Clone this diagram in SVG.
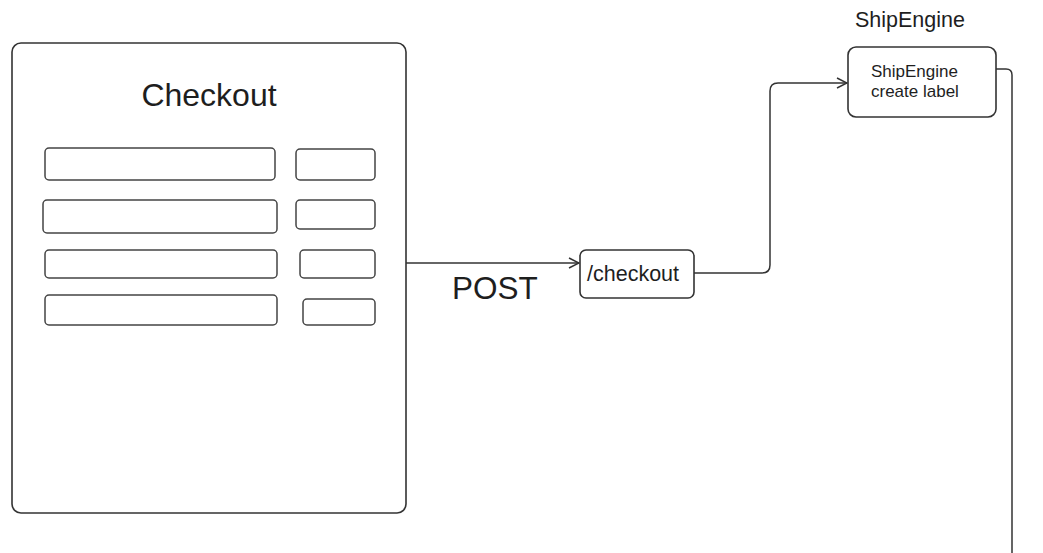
<svg xmlns="http://www.w3.org/2000/svg" width="1043" height="553" viewBox="0 0 1043 553">
<style>
.box{fill:#fff;stroke:#333;stroke-width:1.6}
.fld{fill:#fff;stroke:#444;stroke-width:1.5}
.con{fill:none;stroke:#333;stroke-width:1.5}
text{font-family:"Liberation Sans",Arial,sans-serif;fill:#1e1e1e}
</style>
<defs>
<marker id="arr" viewBox="0 0 12 12" refX="11" refY="6" markerWidth="12" markerHeight="12" markerUnits="userSpaceOnUse" orient="auto">
<path d="M1,1 L11,6 L1,11" fill="none" stroke="#333" stroke-width="1.5"/>
</marker>
</defs>
<rect width="1043" height="553" fill="#fff"/>
<g id="checkout-page">
<rect class="box" x="12" y="43" width="394" height="470" rx="9"/>
<text x="209" y="106" font-size="32" text-anchor="middle">Checkout</text>
<rect class="fld" x="45" y="148" width="230" height="32" rx="4"/>
<rect class="fld" x="296" y="149" width="79" height="31" rx="4"/>
<rect class="fld" x="43" y="200" width="234" height="33" rx="4"/>
<rect class="fld" x="296" y="200" width="79" height="29" rx="4"/>
<rect class="fld" x="45" y="250" width="232" height="28" rx="4"/>
<rect class="fld" x="300" y="250" width="75" height="28" rx="4"/>
<rect class="fld" x="45" y="295" width="232" height="30" rx="4"/>
<rect class="fld" x="303" y="299" width="72" height="26" rx="4"/>
</g>
<g id="checkout-endpoint">
<rect class="box" x="580" y="250" width="114" height="48" rx="6"/>
<text x="587" y="281" font-size="21.5">/checkout</text>
</g>
<g id="shipengine">
<text x="855" y="27" font-size="21.5">ShipEngine</text>
<rect class="box" x="848" y="47" width="148" height="70" rx="8"/>
<text x="871" y="77" font-size="17">ShipEngine</text>
<text x="871" y="97" font-size="17">create label</text>
</g>
<g id="connectors">
<path class="con" d="M406,263 L579,263" marker-end="url(#arr)"/>
<text x="452" y="299" font-size="31.5">POST</text>
<path class="con" d="M694,273 L762,273 Q770,273 770,265 L770,91 Q770,83 778,83 L847,83" marker-end="url(#arr)"/>
<path class="con" d="M996,69 L1006,69 Q1012,69 1012,75 L1012,553"/>
</g>
</svg>
